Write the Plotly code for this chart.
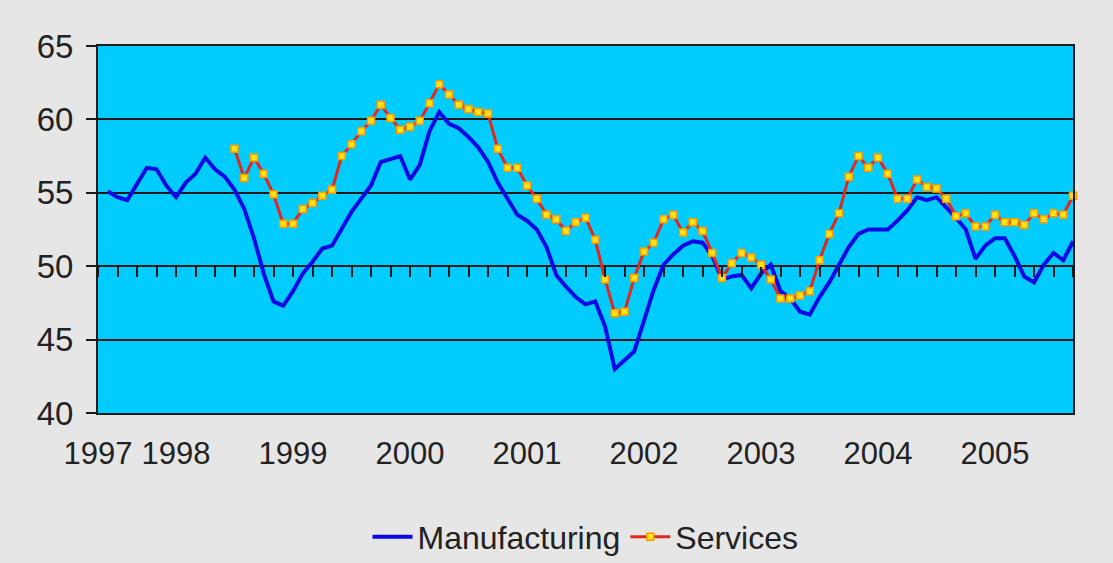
import pandas as pd
import plotly.graph_objects as go

# Monthly categories (first slot left empty, as in the original worksheet)
months = [p.strftime("%Y-%m") for p in pd.period_range("1997-05", "2005-09", freq="M")]

# Manufacturing PMI, Jun 1997 - Sep 2005
manufacturing = [
    55.1, 54.7, 54.5, 55.6, 56.7, 56.6, 55.5, 54.7, 55.7, 56.3,
    57.4, 56.6, 56.1, 55.2, 53.9, 51.9, 49.5, 47.6, 47.3, 48.3,
    49.5, 50.3, 51.2, 51.4, 52.5, 53.7, 54.6, 55.5, 57.1, 57.3,
    57.5, 55.9, 56.9, 59.2, 60.5, 59.7, 59.4, 58.8, 58.1, 57.1,
    55.7, 54.6, 53.5, 53.1, 52.5, 51.3, 49.4, 48.6, 47.9, 47.4,
    47.6, 45.9, 43.0, 43.6, 44.2, 46.3, 48.4, 50.1, 50.8, 51.4,
    51.7, 51.6, 50.7, 49.1, 49.3, 49.4, 48.5, 49.5, 50.1, 48.3,
    47.8, 46.9, 46.7, 47.9, 48.9, 50.1, 51.3, 52.2, 52.5, 52.5,
    52.5, 53.1, 53.8, 54.7, 54.5, 54.7, 54.0, 53.3, 52.5, 50.5,
    51.4, 51.9, 51.9, 50.7, 49.3, 48.9, 50.1, 50.9, 50.4, 51.7,
]

# Services PMI, Jul 1998 - Sep 2005
services = [
    58.0, 56.0, 57.4, 56.3, 54.9, 52.9, 52.9, 53.9, 54.3, 54.8,
    55.2, 57.5, 58.3, 59.2, 59.9, 61.0, 60.1, 59.3, 59.5, 59.9,
    61.1, 62.4, 61.7, 61.0, 60.7, 60.5, 60.4, 58.0, 56.7, 56.7,
    55.5, 54.6, 53.5, 53.2, 52.4, 53.0, 53.3, 51.8, 49.1, 46.8,
    46.9, 49.2, 51.0, 51.6, 53.2, 53.5, 52.3, 53.0, 52.4, 50.9,
    49.2, 50.2, 50.9, 50.6, 50.1, 49.1, 47.8, 47.8, 48.0, 48.3,
    50.4, 52.2, 53.6, 56.1, 57.5, 56.7, 57.4, 56.3, 54.6, 54.6,
    55.9, 55.4, 55.3, 54.6, 53.4, 53.6, 52.7, 52.7, 53.5, 53.0,
    53.0, 52.8, 53.6, 53.2, 53.6, 53.5, 54.8,
]

year_labels = ["1997", "1998", "1999", "2000", "2001", "2002", "2003", "2004", "2005"]
# first label sits on the first category, the rest on each January
year_label_pos = [0] + [months.index(f"{y}-01") for y in year_labels[1:]]

man_x = [months.index("1997-06") + k for k in range(len(manufacturing))]
serv_x = [months.index("1998-07") + k for k in range(len(services))]

FONT = "Liberation Sans, Arial, sans-serif"
TXT = "#222222"

fig = go.Figure()
fig.add_trace(go.Scatter(
    x=man_x, y=manufacturing, name="Manufacturing", mode="lines",
    line=dict(color="#0A0AE6", width=4), text=months[1:],
))
fig.add_trace(go.Scatter(
    x=serv_x, y=services, name="Services", mode="lines+markers",
    xaxis="x2", cliponaxis=False,
    line=dict(color="#E0281E", width=3),
    marker=dict(symbol="square", size=7, color="#FFE21A",
                line=dict(color="#FF9A00", width=1.5)),
))

fig.update_layout(
    width=1113, height=563,
    margin=dict(l=98, r=40, t=46, b=150, autoexpand=False),
    paper_bgcolor="#E6E6E6",
    plot_bgcolor="#00CCFF",
    font=dict(family=FONT, size=32, color=TXT),
    showlegend=True,
    legend=dict(orientation="h", x=0.5, xanchor="center", y=-0.338, yanchor="middle",
                font=dict(size=32, color=TXT), bgcolor="rgba(0,0,0,0)",
                itemwidth=40, tracegroupgap=0),
    xaxis=dict(
        range=[0, 100], tickmode="array", tickvals=year_label_pos, ticktext=year_labels,
        tickangle=0, ticks="", showgrid=False, zeroline=False,
        showline=True, linecolor="#1A1A1A", linewidth=2, mirror=True,
        ticklabelstandoff=12, tickfont=dict(size=31, color=TXT),
    ),
    xaxis2=dict(
        range=[0, 100], overlaying="x", anchor="free", position=0.4, side="bottom",
        tick0=0, dtick=2, ticks="outside", ticklen=10, tickwidth=2, tickcolor="#1A1A1A",
        showticklabels=False, showgrid=False, showline=False, zeroline=False,
    ),
    yaxis=dict(
        range=[40, 65], dtick=5, ticks="outside", ticklen=10, tickwidth=2, tickcolor="#1A1A1A",
        showgrid=True, gridcolor="#1A1A1A", gridwidth=2, zeroline=False,
        showline=True, linecolor="#1A1A1A", linewidth=2, mirror=True,
        ticklabelstandoff=6, tickfont=dict(size=33, color=TXT),
    ),
)

fig.write_html("out.html")
